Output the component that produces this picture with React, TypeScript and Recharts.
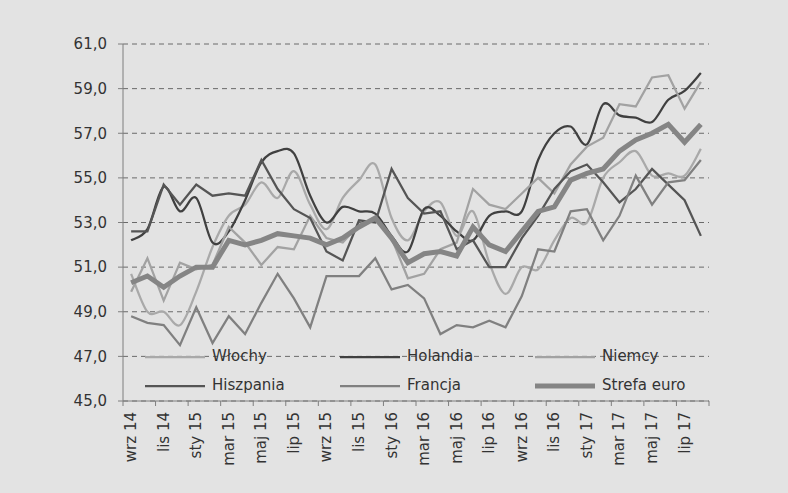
import React from 'react';
import { LineChart, Line, XAxis, YAxis, CartesianGrid, Legend } from 'recharts';

const months = [
  'wrz 14', 'paź 14', 'lis 14', 'gru 14',
  'sty 15', 'lut 15', 'mar 15', 'kwi 15', 'maj 15', 'cze 15', 'lip 15', 'sie 15', 'wrz 15', 'paź 15', 'lis 15', 'gru 15',
  'sty 16', 'lut 16', 'mar 16', 'kwi 16', 'maj 16', 'cze 16', 'lip 16', 'sie 16', 'wrz 16', 'paź 16', 'lis 16', 'gru 16',
  'sty 17', 'lut 17', 'mar 17', 'kwi 17', 'maj 17', 'cze 17', 'lip 17', 'sie 17',
];

const wlochy = [50.7, 49.0, 49.0, 48.4, 49.9, 51.9, 53.3, 53.8, 54.8, 54.1, 55.3, 53.8, 52.7, 54.1, 54.9, 55.6, 53.2, 52.2, 53.5, 53.9, 52.4, 53.5, 51.2, 49.8, 51.0, 50.9, 52.2, 53.2, 53.0, 55.0, 55.7, 56.2, 55.1, 55.2, 55.1, 56.3];
const holandia = [52.2, 52.7, 54.6, 53.5, 54.1, 52.1, 52.6, 54.0, 55.7, 56.2, 56.1, 54.2, 53.0, 53.7, 53.5, 53.4, 52.4, 51.7, 53.6, 53.3, 52.6, 52.2, 53.3, 53.5, 53.5, 55.8, 57.0, 57.3, 56.5, 58.3, 57.8, 57.7, 57.5, 58.5, 58.9, 59.7];
const niemcy = [49.9, 51.4, 49.5, 51.2, 50.9, 51.1, 52.8, 52.1, 51.1, 51.9, 51.8, 53.3, 52.3, 52.1, 52.9, 53.2, 52.3, 50.5, 50.7, 51.8, 52.1, 54.5, 53.8, 53.6, 54.3, 55.0, 54.3, 55.6, 56.4, 56.8, 58.3, 58.2, 59.5, 59.6, 58.1, 59.3];
const hiszpania = [52.6, 52.6, 54.7, 53.8, 54.7, 54.2, 54.3, 54.2, 55.8, 54.5, 53.6, 53.2, 51.7, 51.3, 53.1, 53.0, 55.4, 54.1, 53.4, 53.5, 51.8, 52.2, 51.0, 51.0, 52.3, 53.3, 54.5, 55.3, 55.6, 54.8, 53.9, 54.5, 55.4, 54.7, 54.0, 52.4];
const francja = [48.8, 48.5, 48.4, 47.5, 49.2, 47.6, 48.8, 48.0, 49.4, 50.7, 49.6, 48.3, 50.6, 50.6, 50.6, 51.4, 50.0, 50.2, 49.6, 48.0, 48.4, 48.3, 48.6, 48.3, 49.7, 51.8, 51.7, 53.5, 53.6, 52.2, 53.3, 55.1, 53.8, 54.8, 54.9, 55.8];
const strefaEuro = [50.3, 50.6, 50.1, 50.6, 51.0, 51.0, 52.2, 52.0, 52.2, 52.5, 52.4, 52.3, 52.0, 52.3, 52.8, 53.2, 52.3, 51.2, 51.6, 51.7, 51.5, 52.8, 52.0, 51.7, 52.6, 53.5, 53.7, 54.9, 55.2, 55.4, 56.2, 56.7, 57.0, 57.4, 56.6, 57.4];

const yTicks = [45, 47, 49, 51, 53, 55, 57, 59, 61];

// Excel-like smoothed line
const excelSmooth = (context: any) => {
  let pts: number[][] = [];
  return {
    areaStart() {},
    areaEnd() {},
    lineStart() { pts = []; },
    point(x: number, y: number) { pts.push([+x, +y]); },
    lineEnd() {
      const n = pts.length;
      if (!n) return;
      context.moveTo(pts[0][0], pts[0][1]);
      for (let i = 0; i < n - 1; i++) {
        const p0 = pts[Math.max(i - 1, 0)];
        const p1 = pts[i];
        const p2 = pts[i + 1];
        const p3 = pts[Math.min(i + 2, n - 1)];
        context.bezierCurveTo(
          p1[0] + (p2[0] - p0[0]) / 6, p1[1] + (p2[1] - p0[1]) / 6,
          p2[0] - (p3[0] - p1[0]) / 6, p2[1] - (p3[1] - p1[1]) / 6,
          p2[0], p2[1],
        );
      }
    },
  };
};

const series = [
  { key: 'wlochy', name: 'Włochy', values: wlochy, color: '#a9a9a9', width: 2.25, smooth: true },
  { key: 'holandia', name: 'Holandia', values: holandia, color: '#404040', width: 2.25, smooth: true },
  { key: 'niemcy', name: 'Niemcy', values: niemcy, color: '#a2a2a2', width: 2.25, smooth: false },
  { key: 'hiszpania', name: 'Hiszpania', values: hiszpania, color: '#555555', width: 2.25, smooth: false },
  { key: 'francja', name: 'Francja', values: francja, color: '#808080', width: 2.25, smooth: false },
  { key: 'euro', name: 'Strefa euro', values: strefaEuro, color: '#858585', width: 5, smooth: false },
];

const data = months.map((m, i) => {
  const row: any = { x: i + 0.5, month: m };
  series.forEach((s) => { row[s.key] = s.values[i]; });
  return row;
});

const boundaryTicks = months.map((_, i) => i).filter((i) => i % 2 === 0).concat([months.length]);

const XTick = (props: any) => {
  const { x, y, payload, width } = props;
  const k = payload.value;
  if (k >= months.length) return null;
  const band = (width || 586) / months.length;
  const lx = x + band / 2;
  return (
    <text
      x={lx}
      y={y}
      transform={`rotate(-90, ${lx}, ${y})`}
      textAnchor="end"
      dominantBaseline="central"
      fill="#333"
      fontSize={15}
    >
      {months[k]}
    </text>
  );
};

const renderLegend = (props: any) => {
  const items = props.payload || [];
  return (
    <div style={{ display: 'grid', gridTemplateColumns: '195px 195px 195px', fontFamily: 'DejaVu Sans' }}>
      {series.map((s) => {
        const e = items.find((q: any) => q.value === s.name);
        const color = e && e.color ? e.color : s.color;
        return (
          <div key={s.key} style={{ display: 'flex', alignItems: 'center', height: 29 }}>
            <svg width={60} height={10} style={{ display: 'block' }}>
              <line x1={0} y1={5} x2={60} y2={5} stroke={color} strokeWidth={s.width} />
            </svg>
            <span style={{ marginLeft: 7, fontSize: 15, color: '#333', lineHeight: '15px' }}>{s.name}</span>
          </div>
        );
      })}
    </div>
  );
};

export default function App() {
  return (
    <div style={{ position: 'absolute', left: 0, top: 0, width: 788, height: 493, background: '#e3e3e3', fontFamily: 'DejaVu Sans' }}>
      <LineChart width={788} height={493} data={data} margin={{ top: 44, right: 79, bottom: 22, left: 63 }}>
        <CartesianGrid horizontal vertical={false} stroke="#6a6a6a" strokeDasharray="5 4" />
        <XAxis
          dataKey="x"
          type="number"
          domain={[0, months.length]}
          ticks={boundaryTicks}
          interval={0}
          allowDataOverflow
          height={70}
          tickSize={5}
          tickMargin={6}
          stroke="#7f7f7f"
          tick={<XTick />}
        />
        <YAxis
          type="number"
          domain={[45, 61]}
          ticks={yTicks}
          interval={0}
          width={60}
          tickSize={5}
          tickMargin={11}
          stroke="#7f7f7f"
          tick={{ fill: '#333', fontSize: 15 }}
          tickFormatter={(v: number) => v.toFixed(1).replace('.', ',')}
        />
        {series.map((s) => (
          <Line
            key={s.key}
            dataKey={s.key}
            name={s.name}
            stroke={s.color}
            strokeWidth={s.width}
            type={s.smooth ? (excelSmooth as any) : 'linear'}
            dot={false}
            activeDot={false}
            isAnimationActive={false}
          />
        ))}
        <Legend
          content={renderLegend}
          layout="horizontal"
          verticalAlign="middle"
          align="center"
          wrapperStyle={{ left: 145, top: 342, width: 600 }}
        />
      </LineChart>
    </div>
  );
}
